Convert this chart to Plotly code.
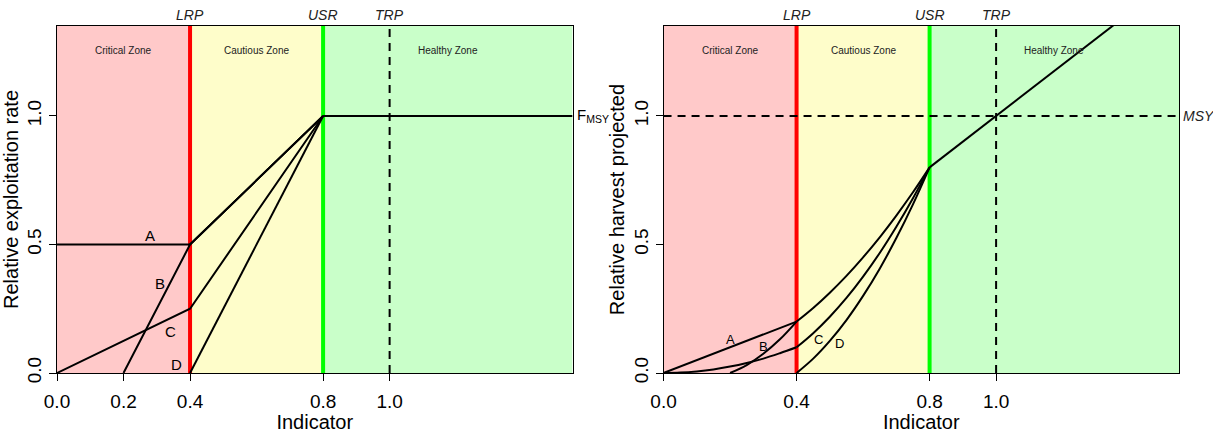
import plotly.graph_objects as go

# ---- data ----
LRP = 0.4
USR = 0.8
TRP = 1.0
x_max = 1.55
y_max = 1.35
ref_labels = ["LRP", "USR", "TRP"]
ref_values = [LRP, USR, TRP]
zone_names = ["Critical Zone", "Cautious Zone", "Healthy Zone"]
zone_bounds = [0.0, LRP, USR, x_max]
zone_colors = ["#FFC9C9", "#FEFDCA", "#C9FFC9"]

# left panel: relative exploitation rate
A_x = [0.0, 0.4, 0.8]
A_y = [0.5, 0.5, 1.0]
B_x = [0.2, 0.4, 0.8]
B_y = [0.0, 0.5, 1.0]
C_x = [0.0, 0.4, 0.8]
C_y = [0.0, 0.25, 1.0]
D_x = [0.4, 0.8]
D_y = [0.0, 1.0]
Fmsy_x = [0.8, 1.55]
Fmsy_y = [1.0, 1.0]
left_lab_x = [0.28, 0.31, 0.34, 0.36]
left_lab_y = [0.535, 0.35, 0.16, 0.035]

# right panel: relative harvest projected
hA1_x = [0.0, 0.4]
hA1_y = [0.0, 0.2]
hAB_x = [0.4, 0.45, 0.5, 0.55, 0.6, 0.65, 0.7, 0.75, 0.8]
hAB_y = [0.2, 0.253, 0.3125, 0.378, 0.45, 0.528, 0.6125, 0.703, 0.8]
hB1_x = [0.2, 0.25, 0.3, 0.35, 0.4]
hB1_y = [0.0, 0.031, 0.075, 0.131, 0.2]
hC1_x = [0.0, 0.05, 0.1, 0.15, 0.2, 0.25, 0.3, 0.35, 0.4]
hC1_y = [0.0, 0.0016, 0.0063, 0.014, 0.025, 0.039, 0.056, 0.077, 0.1]
hC2_x = [0.4, 0.45, 0.5, 0.55, 0.6, 0.65, 0.7, 0.75, 0.8]
hC2_y = [0.1, 0.155, 0.219, 0.292, 0.375, 0.467, 0.569, 0.68, 0.8]
hD_x = [0.4, 0.45, 0.5, 0.55, 0.6, 0.65, 0.7, 0.75, 0.8]
hD_y = [0.0, 0.056, 0.125, 0.206, 0.3, 0.406, 0.525, 0.656, 0.8]
hTop_x = [0.8, 1.55]
hTop_y = [0.8, 1.55]
MSY = 1.0
right_lab_x = [0.2, 0.3, 0.465, 0.53]
right_lab_y = [0.132, 0.103, 0.132, 0.114]
curve_labels = ["A", "B", "C", "D"]

left_ticks = [0.0, 0.2, 0.4, 0.8, 1.0]
right_ticks = [0.0, 0.4, 0.8, 1.0]
y_ticks = [0.0, 0.5, 1.0]

FONT = "Liberation Sans, Arial, sans-serif"

fig = go.Figure()

def add(x, y, ax, spline=False):
    fig.add_trace(go.Scatter(
        x=x, y=y, mode="lines", xaxis=ax[0], yaxis=ax[1],
        line=dict(color="black", width=2, shape="spline" if spline else "linear"),
        showlegend=False, hoverinfo="skip"))

for xs, ys in [(A_x, A_y), (B_x, B_y), (C_x, C_y), (D_x, D_y), (Fmsy_x, Fmsy_y)]:
    add(xs, ys, ("x", "y"))
for xs, ys, sp in [(hA1_x, hA1_y, False), (hAB_x, hAB_y, True), (hB1_x, hB1_y, True),
                   (hC1_x, hC1_y, True), (hC2_x, hC2_y, True), (hD_x, hD_y, True),
                   (hTop_x, hTop_y, False)]:
    add(xs, ys, ("x2", "y2"), sp)

shapes = []
annotations = []
for xr, yr in [("x", "y"), ("x2", "y2")]:
    for i in range(3):
        shapes.append(dict(type="rect", xref=xr, yref=yr, x0=zone_bounds[i], x1=zone_bounds[i + 1],
                           y0=0, y1=y_max, fillcolor=zone_colors[i], line=dict(width=0), layer="below"))
        annotations.append(dict(xref=xr, yref=yr, x=(zone_bounds[i] + zone_bounds[i + 1]) / 2,
                                y=1.255, text=zone_names[i], showarrow=False,
                                font=dict(family=FONT, size=10, color="#222")))
    shapes.append(dict(type="line", xref=xr, yref=yr, x0=TRP, x1=TRP, y0=0, y1=y_max,
                       line=dict(color="black", width=2, dash="8px,6px"), layer="below"))
    shapes.append(dict(type="line", xref=xr, yref=yr, x0=LRP, x1=LRP, y0=0, y1=y_max,
                       line=dict(color="#FF0000", width=4), layer="below"))
    shapes.append(dict(type="line", xref=xr, yref=yr, x0=USR, x1=USR, y0=0, y1=y_max,
                       line=dict(color="#00FF00", width=4), layer="below"))
    for lab, v in zip(ref_labels, ref_values):
        annotations.append(dict(xref=xr, yref=yr, x=v, y=y_max, yanchor="bottom", yshift=1,
                                text="<i>%s</i>" % lab, showarrow=False,
                                font=dict(family=FONT, size=14, color="#222")))

shapes.append(dict(type="line", xref="x2", yref="y2", x0=0, x1=x_max, y0=MSY, y1=MSY,
                   line=dict(color="black", width=2, dash="8px,6px"), layer="below"))

for lab, lx, ly in zip(curve_labels, left_lab_x, left_lab_y):
    annotations.append(dict(xref="x", yref="y", x=lx, y=ly, text=lab, showarrow=False,
                            font=dict(family=FONT, size=15, color="black")))
for lab, lx, ly in zip(curve_labels, right_lab_x, right_lab_y):
    annotations.append(dict(xref="x2", yref="y2", x=lx, y=ly, text=lab, showarrow=False,
                            font=dict(family=FONT, size=13, color="black")))

annotations.append(dict(xref="x", yref="y", x=x_max, y=1.0, xanchor="left", xshift=2,
                        text="F<sub>MSY</sub>", showarrow=False,
                        font=dict(family=FONT, size=15, color="black")))
annotations.append(dict(xref="x2", yref="y2", x=x_max, y=MSY, xanchor="left", xshift=2,
                        text="<i>MSY</i>", showarrow=False,
                        font=dict(family=FONT, size=14, color="#222")))

def xaxis(dom, ticks, anchor):
    return dict(domain=dom, anchor=anchor, range=[0, x_max], tickmode="array", tickvals=ticks,
                ticktext=["%.1f" % t for t in ticks], ticks="outside", ticklen=7,
                ticklabelstandoff=4, automargin=False,
                tickcolor="black", showline=True, mirror=True, linecolor="black", linewidth=1,
                showgrid=False, zeroline=False, tickfont=dict(family=FONT, size=19, color="black"),
                title=dict(text="Indicator", font=dict(family=FONT, size=20, color="black"), standoff=4))

def yaxis(anchor, title):
    return dict(anchor=anchor, domain=[0, 1], range=[0, y_max], tickmode="array", tickvals=y_ticks,
                ticktext=["%.1f" % t for t in y_ticks], ticks="outside", ticklen=7, tickangle=-90,
                automargin=False,
                tickcolor="black", showline=True, mirror=True, linecolor="black", linewidth=1,
                showgrid=False, zeroline=False, tickfont=dict(family=FONT, size=19, color="black"),
                title=dict(text=title, font=dict(family=FONT, size=20, color="black"), standoff=0))

fig.update_layout(
    width=1213, height=433,
    margin=dict(l=57, r=34, t=26, b=60, autoexpand=False),
    paper_bgcolor="white", plot_bgcolor="white",
    xaxis=xaxis([0, 0.4595], left_ticks, "y"),
    yaxis=yaxis("x", "Relative exploitation rate"),
    xaxis2=xaxis([0.5406, 1], right_ticks, "y2"),
    yaxis2=yaxis("x2", "Relative harvest projected"),
    shapes=shapes, annotations=annotations,
)

fig.write_html("out.html")
